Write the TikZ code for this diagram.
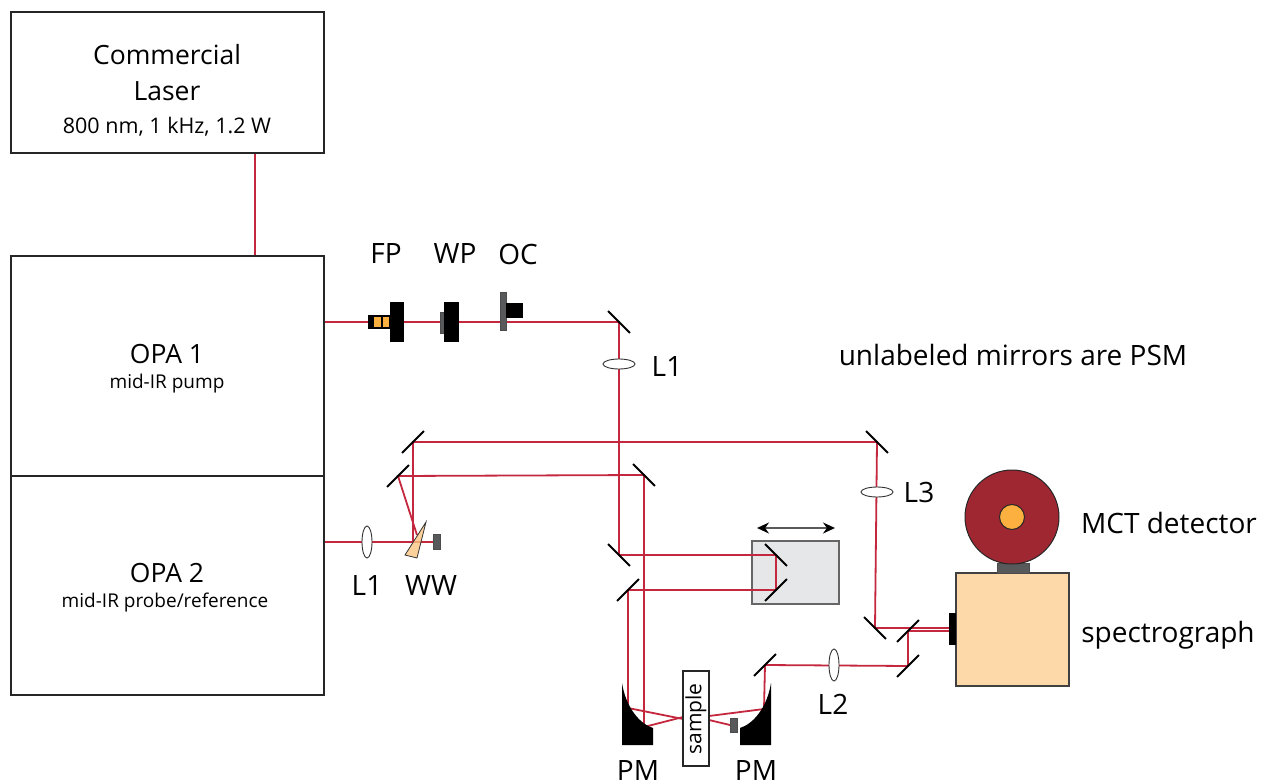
\documentclass[tikz,border=0pt]{standalone}
\usepackage{xcolor}
\usepackage{fontspec}
\setmainfont{Open Sans}
\usetikzlibrary{shapes.geometric,backgrounds,arrows.meta}
\definecolor{beamred}{RGB}{196,40,62}
\definecolor{darkred}{RGB}{158,39,50}
\definecolor{amber}{RGB}{251,176,64}
\definecolor{wedgetan}{RGB}{251,198,130}
\definecolor{specbox}{RGB}{253,217,170}
\definecolor{stagegray}{RGB}{230,231,232}
\definecolor{partgray}{RGB}{88,89,91}

\begin{document}
\begin{tikzpicture}
      [ x=1pt, y=-1pt,
        every node/.style={inner sep=0pt, outer sep=0pt},
        boxtext/.style={font=\fontsize{26.5}{30}\selectfont},
        bigtext/.style={font=\fontsize{28}{32}\selectfont},
        midtext/.style={font=\fontsize{21.5}{24}\selectfont},
        smalltext/.style={font=\fontsize{19}{22}\selectfont},
        unit/.style={draw=black!85, line width=1.2pt, fill=white},
        beam/.style={draw=beamred, line width=1.8pt},
        psm/.style={fill=black, minimum width=31pt, minimum height=2pt},
        lensv/.style={ellipse, draw=black!80, line width=.9pt, fill=white, minimum width=10pt, minimum height=32pt},
        lensh/.style={ellipse, draw=black!80, line width=.9pt, fill=white, minimum width=32pt, minimum height=10pt},
        solid part/.style={fill=black},
        gray part/.style={fill=partgray, draw=black!70, line width=.5pt}
      ]
      \useasboundingbox (0,0) rectangle (1262,784);

      % sources
      \node[unit, minimum width=313pt, minimum height=141pt] (laser) at (167.5,82.5)  {};
      \node[unit, minimum width=313pt, minimum height=220pt] (OPA_1) at (167.5,366)   {};
      \node[unit, minimum width=313pt, minimum height=219pt] (OPA_2) at (167.5,585.5) {};
      \node[boxtext] (t_com) at (167,55)  {Commercial};
      \node[boxtext] (t_las) at (167,91)  {Laser};
      \node[midtext] (t_spc) at (167,127) {800 nm, 1 kHz, 1.2 W};
      \node[boxtext] (t_o1)  at (167,354) {OPA 1};
      \node[smalltext] (t_p1) at (167,384) {mid-IR pump};
      \node[boxtext] (t_o2)  at (167,573) {OPA 2};
      \node[smalltext] (t_p2) at (165,603) {mid-IR probe/reference};

      % mirrors
      \node[psm, rotate=-45] (M_pump)  at (619,322) {};
      \node[psm, rotate=45]  (M_top)   at (413,442) {};
      \node[psm, rotate=45]  (M_ref)   at (398,476) {};
      \node[psm, rotate=-45] (M_far)   at (877,442) {};
      \node[psm, rotate=-45] (M_ref2)  at (644,475) {};
      \node[psm, rotate=-45] (M_in)    at (619,555) {};
      \node[psm, rotate=45]  (M_out)   at (628,590) {};
      \node[psm, rotate=-45] (S_in)    at (776,555) {};
      \node[psm, rotate=45]  (S_out)   at (776,590) {};
      \node[psm, rotate=45]  (M_col)   at (765,665) {};
      \node[psm, rotate=45]  (M_low)   at (908,666) {};
      \node[psm, rotate=45]  (M_mix)   at (908,631) {};
      \node[psm, rotate=-45] (M_spec)  at (875,628) {};

      % lenses
      \node[lensh] (L_pump)  at (619,364) {};
      \node[lensv] (L_probe) at (367,542) {};
      \node[lensh] (L_three) at (877,492) {};
      \node[lensv] (L_two)   at (834,665) {};

      % free ends of the beams
      \coordinate (las_out) at (255,153);
      \coordinate (opa_in)  at (255,256);
      \coordinate (pump_st) at (324,322);
      \coordinate (prb_st)  at (324,542);
      \coordinate (wedge_a) at (413,542);
      \coordinate (wedge_b) at (417,535);
      \coordinate (dump)    at (433,542);
      \coordinate (pm_la)   at (628,708);
      \coordinate (pm_lb)   at (644,727);
      \coordinate (pm_r)    at (764,709);
      \coordinate (smp_a)   at (683,719);
      \coordinate (smp_b)   at (683,717);
      \coordinate (smp_c)   at (709,716);
      \coordinate (smp_d)   at (709,720);
      \coordinate (dump_r)  at (730,725);
      \coordinate (det_a)   at (949,628);
      \coordinate (det_b)   at (949,631);

      % delay stage and beams
      \begin{scope}[on background layer]
        \node[draw=black!60, fill=stagegray, line width=1.2pt, minimum width=87pt, minimum height=63pt] (stage) at (795.5,572.5) {};
        \path[beam] (las_out) -- (opa_in);
        \path[beam] (pump_st) -- (M_pump.center) -- (M_in.center) -- (S_in.center) -- (S_out.center) -- (M_out.center) -- (pm_la) -- (smp_a);
        \path[beam] (prb_st) -- (dump);
        \path[beam] (wedge_a) -- (M_top.center) -- (M_far.center) -- (M_spec.center) -- (det_a);
        \path[beam] (wedge_b) -- (M_ref.center) -- (M_ref2.center) -- (pm_lb) -- (smp_b);
        \path[beam] (smp_c) -- (pm_r) -- (M_col.center) -- (M_low.center) -- (M_mix.center) -- (det_b);
        \path[beam] (smp_d) -- (dump_r);
      \end{scope}

      % stage travel
      \draw[{Stealth[length=12pt,width=11pt,black]}-{Stealth[length=12pt,width=11pt,black]}, draw=partgray, line width=1.6pt]
        (757,528) -- (835,528);

      % fixed parts in the pump line
      \node[solid part, minimum width=22pt, minimum height=14pt] (FP_body) at (379,322) {};
      \node[fill=amber, minimum width=6.5pt, minimum height=10pt] (FP_a) at (377.5,322) {};
      \node[fill=amber, minimum width=6.5pt, minimum height=10pt] (FP_b) at (386,322) {};
      \node[solid part, minimum width=14pt, minimum height=40pt] (FP_plate) at (397,322) {};
      \node[gray part, minimum width=4pt, minimum height=21pt] (WP_face) at (442,322.5) {};
      \node[solid part, minimum width=15pt, minimum height=40pt] (WP_plate) at (451.5,322) {};
      \node[gray part, minimum width=6pt, minimum height=38pt] (OC_face) at (503,311) {};
      \node[solid part, minimum width=17pt, minimum height=15pt] (OC_body) at (514.5,310.5) {};

      % wedged window
      \draw[draw=black!80, line width=.8pt, fill=wedgetan, fill opacity=.8] (426,522) -- (405,555) -- (417,558) -- cycle;
      \node[gray part, minimum width=7pt, minimum height=15pt] (WW_dump) at (436.5,541.5) {};

      % parabolic mirrors and sample
      \fill (622,745) -- (622,683) .. controls (626,708) and (640,724) .. (653,728) -- (653,745) -- cycle;
      \fill (771,745) -- (771,683) .. controls (767,708) and (753,724) .. (740,728) -- (740,745) -- cycle;
      \node[unit, minimum width=26pt, minimum height=95pt] (sample) at (696,718.5) {};
      \node[font=\fontsize{21}{24}\selectfont, rotate=90] (t_smp) at (696,719) {sample};
      \node[gray part, minimum width=7pt, minimum height=14pt] (PM_dump) at (733.5,725) {};

      % spectrograph and detector
      \node[draw=black!75, fill=specbox, line width=1.1pt, minimum width=113pt, minimum height=113pt] (spec) at (1012.5,629.5) {};
      \node[solid part, minimum width=7pt, minimum height=32pt] (slit) at (952.5,629) {};
      \node[gray part, minimum width=32pt, minimum height=10pt] (foot) at (1013,568) {};
      \node[circle, draw=black!85, fill=darkred, line width=1pt, minimum size=94pt] (MCT) at (1012,517) {};
      \node[circle, draw=black!85, fill=amber, line width=1pt, minimum size=25pt] (MCT_c) at (1012,517) {};

      % labels
      \node[bigtext] (t_fp) at (386,254) {FP};
      \node[bigtext] (t_wp) at (455,254) {WP};
      \node[bigtext] (t_oc) at (518,254) {OC};
      \node[bigtext] (t_l1) at (667,367) {L1};
      \node[bigtext] (t_l4) at (367,586) {L1};
      \node[bigtext] (t_ww) at (431,586) {WW};
      \node[bigtext] (t_l3) at (919,492) {L3};
      \node[bigtext] (t_l2) at (833,704) {L2};
      \node[bigtext] (t_pl) at (638,771) {PM};
      \node[bigtext] (t_pr) at (756,771) {PM};
      \node[bigtext] (t_un) at (1013,355) {unlabeled mirrors are PSM};
      \node[bigtext] (t_mc) at (1169,523) {MCT detector};
      \node[bigtext] (t_sp) at (1168,635) {spectrograph};
    \end{tikzpicture}
\end{document}
